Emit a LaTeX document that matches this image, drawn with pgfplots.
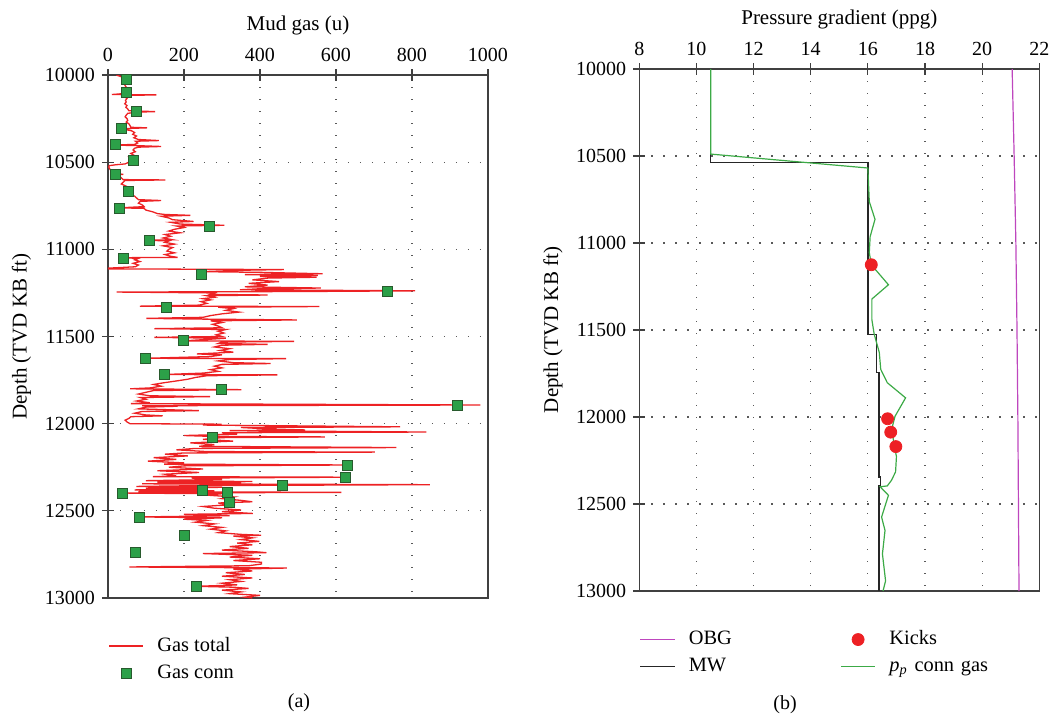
\documentclass[border=0pt]{standalone}
\usepackage{fontspec}
\setmainfont{Liberation Serif}
\usepackage{pgfplots}
\pgfplotsset{compat=1.18}
\definecolor{gasred}{RGB}{237,34,36}
\definecolor{sqgreen}{RGB}{44,160,72}
\definecolor{sqdark}{RGB}{40,90,45}
\definecolor{ppgreen}{RGB}{60,170,70}
\definecolor{obg}{RGB}{190,70,190}
\definecolor{kick}{RGB}{237,32,36}
\pgfplotsset{
  myax/.style={
    scale only axis,
    y dir=reverse,
    ymin=10000, ymax=13000,
    ytick={10000,10500,...,13000},
    scaled y ticks=false, scaled x ticks=false,
    yticklabel style={/pgf/number format/fixed, /pgf/number format/precision=0},
    xtick pos=right, xticklabel pos=right,
    ytick pos=left,
    tick align=center,
    major tick length=6pt,
    tick style={black!75, line width=0.6pt},
    axis line style={black!75, line width=0.7pt},
    grid=major,
    major grid style={black!65, line width=0.6pt, dash pattern=on 0.6pt off 5.4pt},
    /pgf/number format/assume math mode=true,
    /pgf/number format/set thousands separator={},
    tick label style={font=\fontsize{10}{12}\selectfont},
    label style={font=\fontsize{10.5}{12.5}\selectfont},
    legend style={draw=none, fill=none, anchor=north west, inner sep=0pt,
      column sep=3.5pt, row sep=4.5pt, font=\fontsize{10.2}{12}\selectfont,
      nodes={inner xsep=3.3pt, inner ysep=0pt, text height=7pt, text depth=2pt}},
    legend cell align=left,
  }
}
\begin{document}
\fontsize{10}{12}\selectfont
\begin{tikzpicture}
\useasboundingbox (0,0) rectangle (528.5pt,359pt);
% ---------------- (a) ----------------
\begin{axis}[myax,
  at={(54pt,60pt)}, anchor=south west,
  width=190pt, height=261.5pt,
  xmin=0, xmax=1000, xtick={0,200,...,1000},
  xlabel={Mud gas (u)}, ylabel={Depth (TVD KB ft)},
  legend style={at={(0,-0.074)}},
]
\addplot[gasred, line width=0.65pt] table {
22 10000
35 10010
40 10020
45 10030
38 10040
42 10050
45 10060
48 10070
40 10080
45 10090
48 10100
50 10105
10 10112
127 10114
55 10117
45 10125
50 10135
46 10145
48 10155
44 10165
50 10175
47 10185
52 10195
55 10205
124 10210
75 10213
52 10220
48 10230
45 10240
50 10250
52 10260
48 10270
55 10280
58 10290
60 10300
103 10303
36 10308
62 10320
70 10330
65 10340
75 10350
68 10360
80 10370
134 10376
72 10380
78 10390
70 10398
18 10402
75 10405
140 10410
80 10414
70 10420
66 10430
72 10440
60 10450
68 10460
55 10470
62 10480
68 10490
55 10500
45 10510
20 10515
3 10520
2 10530
5 10540
8 10550
12 10560
22 10565
40 10570
21 10573
30 10580
35 10590
40 10600
151 10602
45 10605
40 10615
35 10625
45 10635
55 10645
50 10655
60 10665
54 10670
65 10675
60 10685
70 10695
75 10705
80 10715
140 10720
85 10725
80 10735
90 10745
95 10755
30 10762
95 10765
100 10775
118 10785
130 10795
150 10800
217 10805
140 10810
160 10820
170 10830
225 10840
165 10845
190 10855
306 10862
180 10866
200 10875
175 10885
160 10895
190 10905
150 10915
165 10925
145 10935
170 10945
105 10948
160 10952
150 10960
175 10970
145 10980
170 10990
160 11000
155 11010
175 11020
150 11030
165 11040
183 11046
40 11048
80 11052
70 11060
84 11070
66 11080
80 11090
72 11100
0 11108
2 11112
463 11116
350 11120
247 11128
400 11132
565 11140
360 11145
552 11150
400 11155
549 11160
420 11165
380 11175
450 11185
370 11195
420 11205
360 11215
560 11222
400 11226
347 11232
808 11238
500 11242
23 11245
280 11250
270 11258
420 11262
260 11266
280 11275
250 11283
270 11290
245 11300
260 11310
240 11320
84 11326
556 11328
290 11332
330 11340
310 11350
345 11360
300 11370
270 11380
250 11390
101 11396
240 11400
497 11405
270 11410
300 11420
275 11430
290 11440
300 11450
122 11455
310 11460
290 11470
305 11480
285 11490
300 11500
122 11505
310 11510
200 11525
490 11528
300 11532
290 11540
420 11545
300 11550
280 11560
320 11570
295 11580
330 11590
234 11600
300 11605
270 11615
99 11625
469 11627
320 11632
290 11640
330 11650
428 11655
300 11660
280 11670
300 11680
270 11690
290 11700
250 11710
149 11718
446 11720
260 11725
230 11735
210 11745
180 11755
148 11765
120 11775
140 11785
110 11795
58 11800
351 11805
120 11810
100 11820
80 11830
110 11840
269 11845
85 11850
100 11860
75 11870
110 11880
60 11885
980 11893
90 11897
183 11900
100 11905
80 11915
239 11925
90 11930
70 11940
100 11950
144 11955
60 11960
55 11970
45 11980
50 11990
58 12000
299 12003
250 12008
769 12018
350 12022
420 12030
519 12036
320 12040
838 12048
300 12052
340 12060
200 12068
273 12073
571 12076
300 12080
250 12090
329 12100
217 12110
280 12120
240 12130
759 12137
230 12142
180 12150
260 12160
702 12163
200 12168
150 12175
210 12185
120 12195
180 12205
105 12215
200 12225
148 12232
640 12237
200 12242
160 12250
250 12260
130 12270
240 12280
150 12290
180 12300
118 12304
632 12307
220 12312
300 12320
100 12327
380 12332
130 12336
350 12340
90 12345
847 12350
260 12355
75 12360
300 12365
100 12370
260 12375
70 12380
280 12385
80 12390
614 12394
37 12398
300 12402
260 12410
330 12420
300 12430
350 12440
380 12448
290 12455
320 12465
250 12475
280 12485
350 12495
300 12505
381 12515
200 12520
320 12528
82 12535
300 12540
200 12548
260 12555
230 12565
280 12575
250 12585
300 12595
270 12605
310 12615
290 12625
350 12635
403 12640
330 12645
380 12655
350 12665
398 12675
340 12685
380 12695
320 12705
370 12715
300 12725
390 12735
417 12740
250 12745
380 12755
320 12765
400 12775
330 12785
404 12795
404 12805
370 12815
56 12822
471 12828
330 12835
380 12845
310 12855
360 12865
300 12875
380 12885
320 12895
350 12905
300 12915
340 12925
232 12933
330 12938
370 12945
300 12955
350 12965
320 12975
400 12985
360 12995
380 13000
};
\addlegendentry{Gas total}
\addplot[only marks, mark=square*, mark size=2.5pt,
  mark options={fill=sqgreen, draw=sqdark, line width=0.5pt}] table {
48 10023
48 10103
75 10211
36 10308
20 10400
68 10490
21 10573
54 10671
31 10764
267 10868
108 10950
40 11050
247 11146
736 11242
155 11332
199 11525
100 11624
149 11718
299 11805
920 11895
274 12077
631 12241
625 12307
458 12353
249 12385
38 12402
314 12397
320 12450
82 12536
201 12640
73 12740
232 12933
};
\addlegendentry{Gas conn}
\end{axis}
% ---------------- (b) ----------------
\begin{axis}[myax,
  at={(319.65pt,63.5pt)}, anchor=south west,
  width=200pt, height=261pt,
  xmin=8, xmax=22, xtick={8,10,...,22},
  xlabel={Pressure gradient (ppg)}, ylabel={Depth (TVD KB ft)},
  legend columns=2,
  legend style={at={(0,-0.075)}, nodes={text width=69pt}},
]
\addplot[obg, line width=0.6pt, forget plot] table {
21.05 10000
21.12 10500
21.18 11000
21.22 11500
21.25 12000
21.27 12500
21.29 13000
};
\addplot[black!85, line width=0.7pt, forget plot] table {
10.5 10000
10.5 10538
16.0 10538
16.0 11525
16.31 11525
16.31 11745
16.39 11745
16.39 12344
16.45 12344
16.45 12392
16.39 12392
16.39 13000
};
\addplot[ppgreen, line width=0.6pt, forget plot] table {
10.5 10000
10.5 10489
16.0 10569
16.05 10762
16.25 10864
16.08 10963
16.05 11055
16.12 11125
16.72 11240
16.14 11322
16.14 11440
16.22 11523
16.4 11629
16.45 11726
16.68 11803
17.32 11890
16.95 11996
16.83 12073
17.0 12228
16.97 12315
16.83 12363
16.68 12396
16.43 12401
16.72 12450
16.48 12575
16.6 12652
16.51 12787
16.62 12942
16.53 13000
};
\addplot[only marks, mark=*, mark size=3pt, kick, forget plot] table {
16.12 11125
16.69 12010
16.80 12087
16.98 12170
};
\addlegendimage{obg, line width=0.6pt}
\addlegendentry{OBG}
\addlegendimage{only marks, mark=*, mark size=3pt, kick}
\addlegendentry{Kicks}
\addlegendimage{black!85, line width=0.7pt}
\addlegendentry{MW}
\addlegendimage{ppgreen, line width=0.6pt}
\addlegendentry{\textit{p}\textsubscript{\textit{p}} conn gas}
\end{axis}
\node at (149.5pt,7.5pt) {(a)};
\node at (392.5pt,6.5pt) {(b)};
\end{tikzpicture}
\end{document}
